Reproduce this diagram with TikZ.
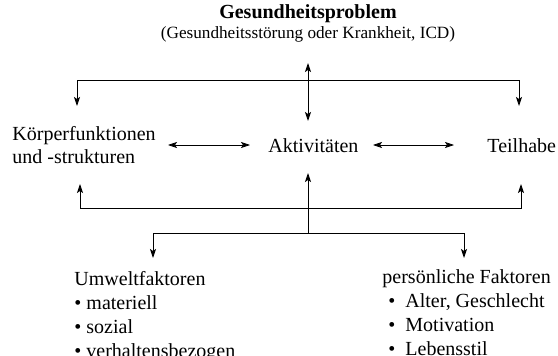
\documentclass[tikz,border=0pt]{standalone}
\usepackage{fontspec}
\setmainfont{Liberation Serif}
\usetikzlibrary{arrows.meta, positioning}

\begin{document}
\begin{tikzpicture}[
    x=1pt, y=-1pt,
    every node/.style={inner sep=0pt, font=\fontsize{20}{24}\selectfont},
    textblock/.style={anchor=north west, align=left},
    line width=0.9pt,
    >={Stealth[length=9pt, width=6pt, inset=2pt]}
  ]
  \useasboundingbox (0,0) rectangle (558,356);

  % Knoten
  \node[anchor=base] (problem) at (308,19) {\bfseries Gesundheitsproblem};
  \node[anchor=base, font=\fontsize{17.2}{20}\selectfont] (icd) at (308,38) {(Gesundheitsstörung oder Krankheit, ICD)};
  \node[textblock, font=\fontsize{20}{23}\selectfont] (koerper) at (12,126.3) {Körperfunktionen\\und -strukturen};
  \node[anchor=base west] (aktiv) at (268,152) {Aktivitäten};
  \node[anchor=base west] (teilhabe) at (487,152) {Teilhabe};
  \node[textblock] (umwelt) at (74,271.3) {Umweltfaktoren\\\textbullet\ materiell\\\textbullet\ sozial\\\textbullet\ verhaltensbezogen};
  \node[textblock] (person) at (382,269.3) {persönliche Faktoren\\
    \hspace*{6pt}\textbullet\hspace{10pt}Alter, Geschlecht\\
    \hspace*{6pt}\textbullet\hspace{10pt}Motivation\\
    \hspace*{6pt}\textbullet\hspace{10pt}Lebensstil};

  % Anschlusspunkte
  \coordinate (p-out) at (308,63);
  \coordinate (a-in) at (308,121);
  \coordinate (bar-top) at (308,80);
  \coordinate (k-top) at (77,106);
  \coordinate (t-top) at (519,106);
  \coordinate (k-right) at (168,145);
  \coordinate (a-left) at (250,145);
  \coordinate (a-right) at (373,145);
  \coordinate (t-left) at (454,145);
  \coordinate (k-bot) at (80,184);
  \coordinate (t-bot) at (521,184);
  \coordinate (a-bot) at (308,173);
  \coordinate (bar-mid) at (308,208);
  \coordinate (bar-low) at (308,233);
  \coordinate (u-top) at (153,258);
  \coordinate (p-top) at (464,258);

  % Verbindungen
  \draw[<->] (p-out) -- (a-in);
  \draw[<->] (k-top) -- (k-top |- bar-top) -- (t-top |- bar-top) -- (t-top);
  \draw[<->, line width=0.7pt] (k-right) -- (a-left);
  \draw[<->, line width=0.7pt] (a-right) -- (t-left);
  \draw[<->] (k-bot) -- (k-bot |- bar-mid) -- (t-bot |- bar-mid) -- (t-bot);
  \draw[->] (bar-low) -- (a-bot);
  \draw[<->] (u-top) -- (u-top |- bar-low) -- (p-top |- bar-low) -- (p-top);

\end{tikzpicture}
\end{document}
